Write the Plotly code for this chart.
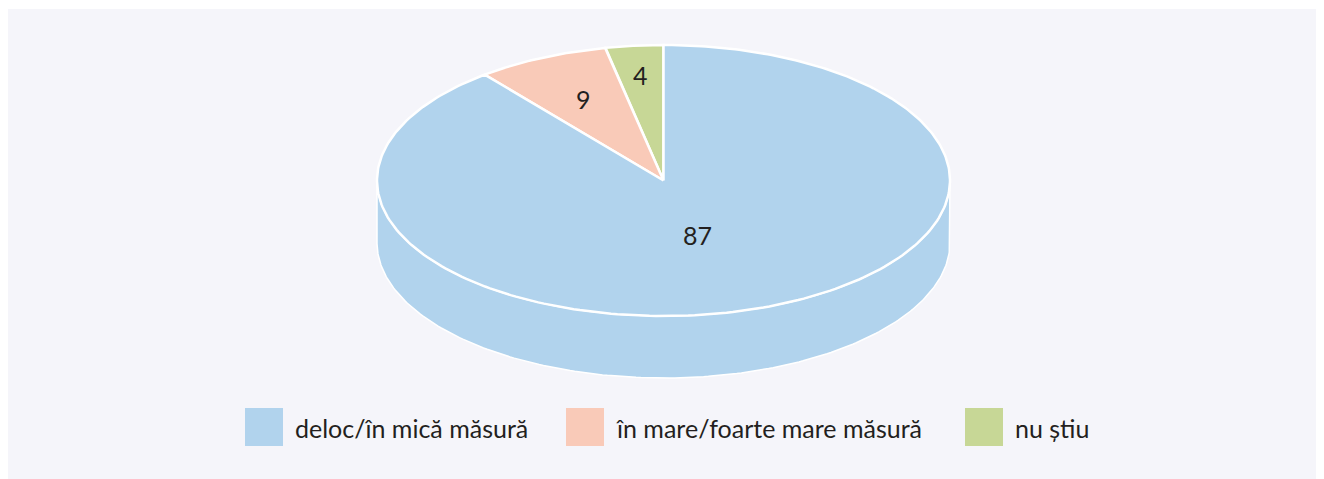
import numpy as np
import plotly.graph_objects as go

# data
categories = ['deloc/în mică măsură', 'în mare/foarte mare măsură', 'nu știu']
values = [87, 9, 4]
colors = ['#b1d3ed', '#f9cab8', '#c7d796']

W, H = 1324, 479
off = 8                      # page body margin, so coordinates below are window pixels
cx, cy = 663.5, 180.5        # centre of top face (px)
a, b = 286.5, 135.5          # ellipse radii
depth = 62                   # thickness of the disc
persp = 0.81                 # perspective squeeze of the far side

# slices go counter-clockwise from 12 o'clock, last category first (like Excel)
order = [2, 1, 0]


def warp(t):
    # perspective-ish warp of the angle: far side narrower, near side wider
    return 2 * np.arctan2(persp * np.sin(t / 2), np.cos(t / 2))


def pt(t, r=1.0, dy=0.0):
    tw = warp(t)
    return cx - a * r * np.sin(tw), cy - b * r * np.cos(tw) + dy


fig = go.Figure()

total = sum(values)
bounds = {}
start = 0.0
for i in order:
    end = start + values[i] / total * 2 * np.pi
    bounds[i] = (start, end)
    start = end

# side (front half of the disc, warped angle between 90 and 270 deg)
for i in order:
    s, e = bounds[i]
    ts = np.linspace(s, e, 400)
    tw = warp(ts)
    keep = (tw >= np.pi / 2) & (tw <= 3 * np.pi / 2)
    if not keep.any():
        continue
    ts = ts[keep]
    xs_top, ys_top = pt(ts)
    xs_bot, ys_bot = pt(ts[::-1], dy=depth)
    fig.add_trace(go.Scatter(
        x=np.concatenate([xs_top, xs_bot, xs_top[:1]]),
        y=np.concatenate([ys_top, ys_bot, ys_top[:1]]),
        fill='toself', fillcolor=colors[i], mode='lines',
        line=dict(color='white', width=1.5), hoverinfo='skip', showlegend=False))

# top face
for i in order:
    s, e = bounds[i]
    ts = np.linspace(s, e, 300)
    xs, ys = pt(ts)
    fig.add_trace(go.Scatter(
        x=np.concatenate([[cx], xs, [cx]]),
        y=np.concatenate([[cy], ys, [cy]]),
        fill='toself', fillcolor=colors[i], mode='lines',
        line=dict(color='white', width=2.5), name=categories[i],
        hoverinfo='name', showlegend=False))

# value labels
lbl_r = {0: 0.35, 1: 0.66, 2: 0.78}
lbl_nudge = {0: (-14, 13), 1: (0, 0), 2: (0, 0)}
for i in order:
    s, e = bounds[i]
    lx, ly = pt((s + e) / 2, r=lbl_r[i])
    fig.add_annotation(x=lx + lbl_nudge[i][0], y=ly + lbl_nudge[i][1], text=str(values[i]),
                       showarrow=False, font=dict(size=25, color='#231f20'))

# panel + legend
shapes = [dict(type='rect', xref='x', yref='y', x0=7, y0=9, x1=W + off, y1=H + off,
               fillcolor='#f5f5fa', line=dict(width=0), layer='below')]
leg_x = [245, 566, 965]
for i, lx in enumerate(leg_x):
    shapes.append(dict(type='rect', xref='x', yref='y', x0=lx, x1=lx + 38, y0=408, y1=446,
                       fillcolor=colors[i], line=dict(width=0)))
    fig.add_annotation(x=lx + 48, y=428, text=categories[i], xanchor='left', showarrow=False,
                       font=dict(size=25, color='#231f20'))

fig.update_layout(
    width=W, height=H, margin=dict(l=0, r=0, t=0, b=0),
    paper_bgcolor='white', plot_bgcolor='rgba(0,0,0,0)',
    font=dict(family='Lato, Open Sans, sans-serif'),
    shapes=shapes,
    xaxis=dict(range=[off, W + off], visible=False, fixedrange=True),
    yaxis=dict(range=[H + off, off], visible=False, fixedrange=True),
)

fig.write_html("out.html")
